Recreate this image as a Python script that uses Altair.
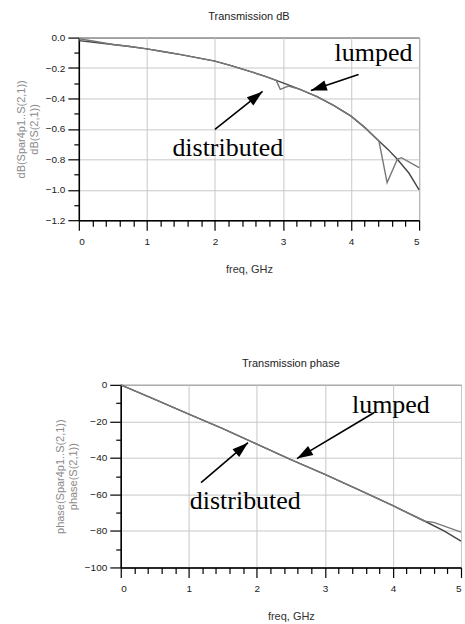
import math
import altair as alt
import pandas as pd

# ---- S21 magnitude, dB ----
freq_db_lumped = [0.0, 0.25, 0.5, 0.75, 1.0, 1.25, 1.5, 1.75, 2.0, 2.25, 2.5, 2.75,
                  3.0, 3.25, 3.5, 3.75, 4.0, 4.2, 4.41, 4.55, 4.68, 4.85, 5.0]
db_lumped = [-0.02, -0.032, -0.045, -0.059, -0.074, -0.093, -0.112, -0.133, -0.155,
             -0.186, -0.22, -0.256, -0.297, -0.34, -0.388, -0.447, -0.516, -0.59,
             -0.68, -0.738, -0.80, -0.89, -1.0]

freq_db_dist = [0.0, 0.25, 0.5, 0.75, 1.0, 1.25, 1.5, 1.75, 2.0, 2.25, 2.5, 2.75, 2.9,
                2.96, 3.08, 3.25, 3.5, 3.75, 4.0, 4.2, 4.41, 4.53, 4.68, 4.74, 5.0]
db_dist = [-0.008, -0.026, -0.045, -0.059, -0.074, -0.093, -0.112, -0.133, -0.155,
           -0.186, -0.22, -0.256, -0.281, -0.34, -0.318, -0.34, -0.388, -0.447,
           -0.516, -0.59, -0.68, -0.953, -0.80, -0.789, -0.854]

# ---- S21 phase, degrees ----
freq_ph_lumped = [0.0, 0.5, 1.0, 1.5, 2.0, 2.5, 3.0, 3.5, 4.0, 4.47, 4.75, 5.0]
ph_lumped = [0.0, -8.0, -16.0, -24.0, -32.5, -41.0, -49.0, -57.5, -66.2, -74.7, -80.0, -85.6]

freq_ph_dist = [0.0, 0.5, 1.0, 1.5, 2.0, 2.5, 3.0, 3.5, 4.0, 4.47, 4.6, 5.0]
ph_dist = [0.0, -8.0, -16.0, -24.0, -32.5, -41.0, -49.0, -57.5, -66.2, -74.7, -75.3, -80.7]

# ---- annotations: label text position and arrow (tail -> tip) ----
db_labels = ["lumped", "distributed"]
db_label_f = [4.33, 2.19]
db_label_v = [-0.155, -0.78]
db_arrow_f0 = [4.11, 2.00]
db_arrow_v0 = [-0.243, -0.603]
db_arrow_f1 = [3.41, 2.70]
db_arrow_v1 = [-0.348, -0.354]

ph_labels = ["lumped", "distributed"]
ph_label_f = [3.97, 1.83]
ph_label_v = [-15.5, -67.9]
ph_arrow_f0 = [3.72, 1.18]
ph_arrow_v0 = [-15.3, -53.6]
ph_arrow_f1 = [2.59, 1.87]
ph_arrow_v1 = [-40.4, -31.7]

W, H = 341, 183
X_MAX = 5.0
FONT = "Liberation Sans"
SERIF = "Liberation Serif"
HEAD = "M0,0L0.65,2L-0.65,2Z"   # arrow head, tip at the anchor point

x_ticks = [round(i * 0.2, 1) for i in range(26)]
x_major = "abs(datum.value - round(datum.value)) < 0.001"


def series_frame(freq_a, val_a, freq_b, val_b):
    a = pd.DataFrame({"freq": freq_a, "val": val_a, "model": "lumped"})
    b = pd.DataFrame({"freq": freq_b, "val": val_b, "model": "distributed"})
    return pd.concat([a, b], ignore_index=True)


def arrow_frame(f0, v0, f1, v1, y_span):
    px_x = W / X_MAX
    px_y = H / y_span
    angles = []
    for a, b, c, d in zip(f0, v0, f1, v1):
        dx = (c - a) * px_x
        dy = -(d - b) * px_y
        angles.append((math.degrees(math.atan2(dx, -dy)) + 360) % 360)
    return pd.DataFrame({"f0": f0, "v0": v0, "f1": f1, "v1": v1, "ang": angles})


def panel(df, ydom, yvals, ymajor, yfmt, ytitle, title, labels, lf, lv, arrows):
    xs = alt.Scale(domain=[0, X_MAX], nice=False, zero=False)
    ys = alt.Scale(domain=ydom, nice=False, zero=False)
    x_axis = alt.Axis(
        values=x_ticks, tickCount=40,
        labelExpr=f"{x_major} ? format(datum.value, '.0f') : ''",
        tickSize={"condition": {"test": x_major, "value": 10}, "value": 6},
        gridOpacity={"condition": {"test": x_major, "value": 1}, "value": 0},
        title="freq, GHz", titlePadding=17, labelPadding=6, labelOverlap=False,
    )
    y_axis = alt.Axis(
        values=yvals, tickCount=40, format=yfmt,
        labelExpr=f"{ymajor} ? datum.label : ''",
        tickSize={"condition": {"test": ymajor, "value": 11}, "value": 5},
        gridOpacity={"condition": {"test": ymajor, "value": 1}, "value": 0},
        title=ytitle, titleColor="#8a8a8a", titlePadding=6, labelPadding=3,
        labelOverlap=False,
    )
    lines = alt.Chart(df).mark_line(strokeWidth=1.4).encode(
        x=alt.X("freq:Q", scale=xs, axis=x_axis),
        y=alt.Y("val:Q", scale=ys, axis=y_axis),
        color=alt.Color("model:N", legend=None,
                        scale=alt.Scale(domain=["lumped", "distributed"],
                                        range=["#444444", "#777777"])),
        order="freq:Q",
    )
    text = alt.Chart(pd.DataFrame({"t": labels, "f": lf, "v": lv})).mark_text(
        font=SERIF, fontSize=26, align="center", baseline="alphabetic", color="black"
    ).encode(x=alt.X("f:Q", scale=xs, axis=x_axis), y=alt.Y("v:Q", scale=ys, axis=y_axis),
             text="t:N")
    shafts = alt.Chart(arrows).mark_rule(color="black", strokeWidth=1.6).encode(
        x=alt.X("f0:Q", scale=xs, axis=x_axis), y=alt.Y("v0:Q", scale=ys, axis=y_axis),
        x2="f1:Q", y2="v1:Q"
    )
    heads = alt.Chart(arrows).mark_point(
        shape=HEAD, filled=True, color="black", opacity=1, size=256, strokeWidth=0
    ).encode(
        x=alt.X("f1:Q", scale=xs, axis=x_axis), y=alt.Y("v1:Q", scale=ys, axis=y_axis),
        angle=alt.Angle("ang:Q", scale=None)
    )
    return alt.layer(lines, text, shafts, heads).properties(
        width=W, height=H,
        title=alt.TitleParams(title, font=FONT, fontSize=11, fontWeight="normal",
                              color="#222222", offset=11),
        view=alt.ViewBackground(stroke="black", strokeWidth=1),
    )


top = panel(
    series_frame(freq_db_lumped, db_lumped, freq_db_dist, db_dist),
    [-1.2, 0.0], [round(-i * 0.1, 1) for i in range(13)],
    "abs(datum.value * 5 - round(datum.value * 5)) < 0.001", ".1f",
    ["dB(Spar4p1..S(2,1))", "dB(S(2,1))"], "Transmission dB",
    db_labels, db_label_f, db_label_v,
    arrow_frame(db_arrow_f0, db_arrow_v0, db_arrow_f1, db_arrow_v1, 1.2),
)

bottom = panel(
    series_frame(freq_ph_lumped, ph_lumped, freq_ph_dist, ph_dist),
    [-100, 0], [-i * 10 for i in range(11)],
    "datum.value % 20 === 0", "d",
    ["phase(Spar4p1..S(2,1))", "phase(S(2,1))"], "Transmission phase",
    ph_labels, ph_label_f, ph_label_v,
    arrow_frame(ph_arrow_f0, ph_arrow_v0, ph_arrow_f1, ph_arrow_v1, 100.0),
)

# thin blank block; with the negative gap it sets the lower panel's indent
spacer = alt.Chart(pd.DataFrame({"a": [0]})).mark_point(opacity=0).encode(
    x=alt.X("a:Q", axis=None), y=alt.Y("a:Q", axis=None)
).properties(width=1, height=H, view=alt.ViewBackground(stroke=None))

chart = alt.vconcat(
    alt.hconcat(top),
    alt.hconcat(spacer, bottom, spacing=-30),
    spacing=82,
).properties(
    padding={"left": 14, "top": 9, "right": 0, "bottom": 0},
    background="white",
).configure_axis(
    domainColor="black", domainWidth=1.5, tickColor="black", tickWidth=1.2,
    labelFont=FONT, labelFontSize=10, labelColor="#222222",
    gridColor="#c8c8c8", gridWidth=1,
    titleFont=FONT, titleFontSize=11, titleFontWeight="normal", titleColor="#333333",
)

chart.save("out.html", embed_options={"renderer": "svg", "actions": False})
